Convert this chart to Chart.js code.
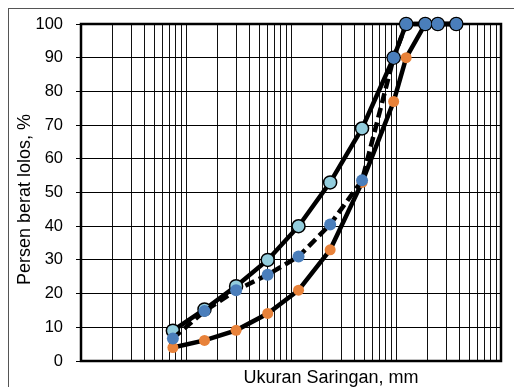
<!DOCTYPE html>
<html>
<head>
<meta charset="utf-8">
<script src="https://cdn.jsdelivr.net/npm/chart.js@4/dist/chart.umd.min.js"></script>
<style>
  html, body { margin: 0; padding: 0; background: #fff; overflow: hidden; }
  #wrap { position: relative; width: 514px; height: 387px; }
  #frame { position: absolute; left: 8px; top: 8px; width: 520px; height: 400px;
           border-left: 1px solid #555; border-top: 1px solid #555; box-sizing: border-box; }
  canvas { position: absolute; left: 0; top: 0; }
</style>
</head>
<body>
<div id="wrap">
  <div id="frame"></div>
  <canvas id="c" width="514" height="387"></canvas>
</div>
<script>
// ---- data ----
const sieveSizes = [0.075, 0.15, 0.3, 0.6, 1.18, 2.36, 4.75, 9.5, 12.5, 19, 25, 37.5];
const upperLimit = [9, 15.3, 22.2, 30, 40, 53, 69, 90, 100, 100, 100, 100];
const gradation  = [6.7, 14.8, 21, 25.6, 31, 40.5, 53.6, 90, 100, 100, 100, 100];
const lowerLimit = [4, 6.1, 9.1, 14.1, 21, 33, 53, 77, 90, 100, 100, 100];
const yTickValues = [0, 10, 20, 30, 40, 50, 60, 70, 80, 90, 100];
const xDecades = [0.01, 0.1, 1, 10];
const xMin = 0.01, xMax = 100;
const xTitle = 'Ukuran Saringan, mm';
const yTitle = 'Persen berat lolos, %';

const toPoints = (vals) => sieveSizes.map((s, i) => ({ x: s, y: vals[i] }));

const FONT = '"Liberation Sans", Arial, sans-serif';

const framePlugin = {
  id: 'frame',
  beforeDatasetsDraw(chart) {
    const a = chart.chartArea, ctx = chart.ctx;
    ctx.save();
    ctx.strokeStyle = '#000';
    ctx.lineWidth = 2.5;
    ctx.strokeRect(a.left, a.top, a.right - a.left, a.bottom - a.top);
    ctx.restore();
  },
  afterDraw(chart) {
    const ctx = chart.ctx;
    ctx.save();
    ctx.fillStyle = '#000';
    ctx.font = '18px ' + FONT;
    ctx.textAlign = 'center';
    ctx.textBaseline = 'alphabetic';
    ctx.fillText(xTitle, 331, 383);
    ctx.translate(30, 199.5);
    ctx.rotate(-Math.PI / 2);
    ctx.fillText(yTitle, 0, 0);
    ctx.restore();
  }
};

new Chart(document.getElementById('c'), {
  type: 'line',
  data: {
    datasets: [
      {
        label: 'Gradasi',
        data: toPoints(gradation),
        borderColor: '#000',
        borderWidth: 4.5,
        borderDash: [10, 5],
        tension: 0,
        pointRadius: 6,
        pointBackgroundColor: '#4A7EBB',
        pointBorderColor: '#4A7EBB',
        pointBorderWidth: 0,
        clip: false,
        order: 0
      },
      {
        label: 'Batas atas',
        data: toPoints(upperLimit),
        borderColor: '#000',
        borderWidth: 4.5,
        tension: 0,
        pointRadius: 6.5,
        pointBackgroundColor: '#93CDDD',
        pointBorderColor: '#000',
        pointBorderWidth: 1.5,
        clip: false,
        order: 1
      },
      {
        label: 'Batas bawah',
        data: toPoints(lowerLimit),
        borderColor: '#000',
        borderWidth: 4.5,
        tension: 0,
        pointRadius: 5.5,
        pointBackgroundColor: '#E8823A',
        pointBorderColor: '#E8823A',
        pointBorderWidth: 0,
        clip: false,
        order: 2
      }
    ]
  },
  options: {
    responsive: false,
    animation: false,
    events: [],
    layout: { padding: { top: 24, right: 13, bottom: 26, left: 0 } },
    plugins: { legend: { display: false }, tooltip: { enabled: false } },
    scales: {
      x: {
        type: 'logarithmic',
        min: xMin,
        max: xMax,
        afterBuildTicks(scale) {
          const t = [];
          xDecades.forEach(d => { for (let k = 1; k <= 9; k++) t.push({ value: +(d * k).toPrecision(6) }); });
          t.push({ value: xMax });
          scale.ticks = t;
        },
        afterFit(scale) { scale.height = 0; },
        ticks: { display: false },
        grid: { color: '#111', lineWidth: 1, drawTicks: false },
        border: { display: false }
      },
      y: {
        type: 'linear',
        min: 0,
        max: 100,
        afterBuildTicks(scale) { scale.ticks = yTickValues.map(v => ({ value: v })); },
        afterFit(scale) { scale.width = 81; },
        ticks: { color: '#000', font: { family: FONT, size: 16.5 }, padding: 13 },
        grid: { color: '#000', lineWidth: 1, tickLength: 5 },
        border: { display: false }
      }
    }
  },
  plugins: [framePlugin]
});
</script>
</body>
</html>
